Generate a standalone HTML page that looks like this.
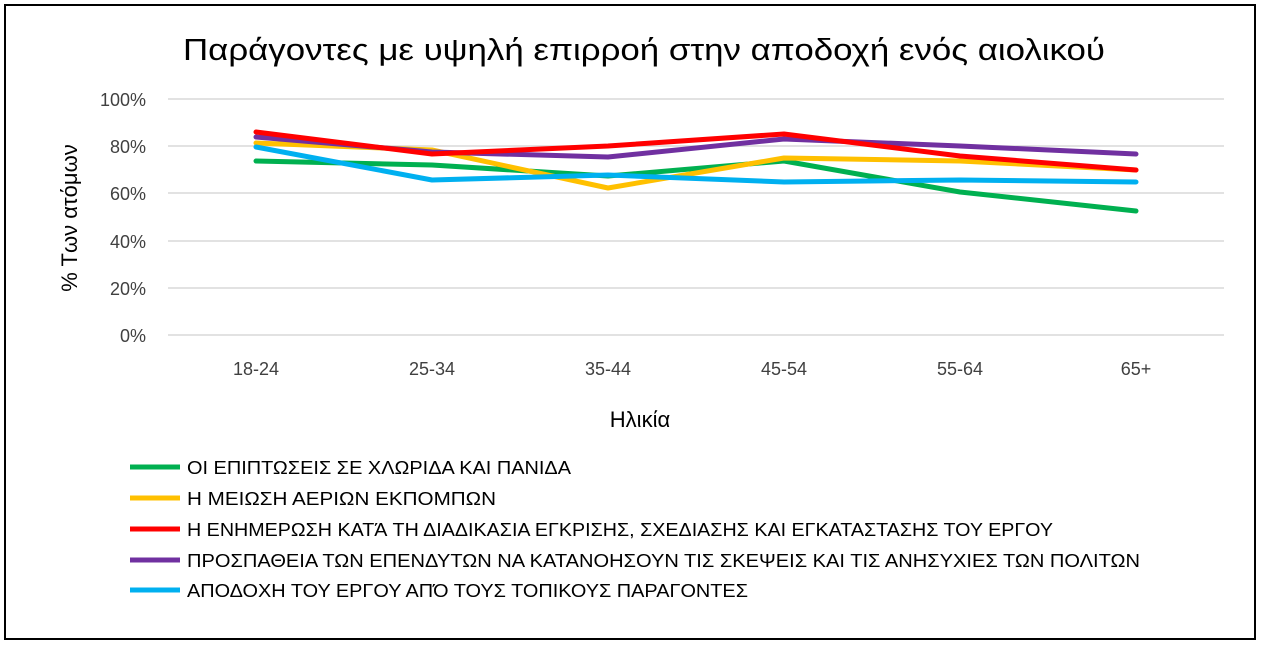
<!DOCTYPE html>
<html><head><meta charset="utf-8"><style>
body{margin:0;background:#fff;}
svg{display:block;font-family:"Liberation Sans","DejaVu Sans",sans-serif;}
</style></head><body>
<svg width="1261" height="646" viewBox="0 0 1261 646" xmlns="http://www.w3.org/2000/svg">
<rect x="0" y="0" width="1261" height="646" fill="#fff"/>
<rect x="5" y="5" width="1250" height="634" fill="none" stroke="#000" stroke-width="2"/>
<text x="183" y="60" font-size="31" textLength="922" lengthAdjust="spacingAndGlyphs" fill="#000">Παράγοντες με υψηλή επιρροή στην αποδοχή ενός αιολικού</text>
<g stroke="#d9d9d9" stroke-width="1.5">
<line x1="168" x2="1224" y1="99" y2="99"/>
<line x1="168" x2="1224" y1="146" y2="146"/>
<line x1="168" x2="1224" y1="193" y2="193"/>
<line x1="168" x2="1224" y1="241" y2="241"/>
<line x1="168" x2="1224" y1="288" y2="288"/>
<line x1="168" x2="1224" y1="335" y2="335"/>
</g>
<g font-size="18" fill="#404040" text-anchor="end">
<text x="146" y="106">100%</text>
<text x="146" y="153">80%</text>
<text x="146" y="200">60%</text>
<text x="146" y="248">40%</text>
<text x="146" y="295">20%</text>
<text x="146" y="342">0%</text>
</g>
<g font-size="18" fill="#404040" text-anchor="middle">
<text x="256" y="375">18-24</text>
<text x="432" y="375">25-34</text>
<text x="608" y="375">35-44</text>
<text x="784" y="375">45-54</text>
<text x="960" y="375">55-64</text>
<text x="1136" y="375">65+</text>
</g>
<text x="640" y="427" font-size="22" text-anchor="middle" fill="#000">Ηλικία</text>
<text transform="translate(77,218) rotate(-90)" font-size="22" text-anchor="middle" fill="#000">% Των ατόμων</text>
<g fill="none" stroke-width="5" stroke-linejoin="round" stroke-linecap="round">
<polyline stroke="#00b050" points="256,161 432,165 608,176 784,161 960,192 1136,211"/>
<polyline stroke="#ffc000" points="256,143 432,150 608,188 784,158 960,161 1136,170"/>
<polyline stroke="#00b0f0" points="256,147 432,180 608,175 784,182 960,180 1136,182"/>
<polyline stroke="#7030a0" points="256,137 432,152 608,157 784,139 960,146 1136,154"/>
<polyline stroke="#ff0000" points="256,132 432,154 608,146 784,134 960,156 1136,170"/>
</g>
<g font-size="18" fill="#000" lengthAdjust="spacingAndGlyphs">
<line x1="130" x2="180" y1="467" y2="467" stroke="#00b050" stroke-width="5"/>
<text x="187" y="474" textLength="384" lengthAdjust="spacingAndGlyphs">ΟΙ ΕΠΙΠΤΩΣΕΙΣ ΣΕ ΧΛΩΡΙΔΑ ΚΑΙ ΠΑΝΙΔΑ</text>
<line x1="130" x2="180" y1="498" y2="498" stroke="#ffc000" stroke-width="5"/>
<text x="187" y="505" textLength="309" lengthAdjust="spacingAndGlyphs">Η ΜΕΙΩΣΗ ΑΕΡΙΩΝ ΕΚΠΟΜΠΩΝ</text>
<line x1="130" x2="180" y1="529" y2="529" stroke="#ff0000" stroke-width="5"/>
<text x="187" y="536" textLength="866" lengthAdjust="spacingAndGlyphs">Η ΕΝΗΜΕΡΩΣΗ ΚΑΤΆ ΤΗ ΔΙΑΔΙΚΑΣΙΑ ΕΓΚΡΙΣΗΣ, ΣΧΕΔΙΑΣΗΣ ΚΑΙ ΕΓΚΑΤΑΣΤΑΣΗΣ ΤΟΥ ΕΡΓΟΥ</text>
<line x1="130" x2="180" y1="560" y2="560" stroke="#7030a0" stroke-width="5"/>
<text x="187" y="567" textLength="953" lengthAdjust="spacingAndGlyphs">ΠΡΟΣΠΑΘΕΙΑ ΤΩΝ ΕΠΕΝΔΥΤΩΝ ΝΑ ΚΑΤΑΝΟΗΣΟΥΝ ΤΙΣ ΣΚΕΨΕΙΣ ΚΑΙ ΤΙΣ ΑΝΗΣΥΧΙΕΣ ΤΩΝ ΠΟΛΙΤΩΝ</text>
<line x1="130" x2="180" y1="590" y2="590" stroke="#00b0f0" stroke-width="5"/>
<text x="187" y="597" textLength="561" lengthAdjust="spacingAndGlyphs">ΑΠΟΔΟΧΗ ΤΟΥ ΕΡΓΟΥ ΑΠΌ ΤΟΥΣ ΤΟΠΙΚΟΥΣ ΠΑΡΑΓΟΝΤΕΣ</text>
</g>
</svg>
</body></html>
